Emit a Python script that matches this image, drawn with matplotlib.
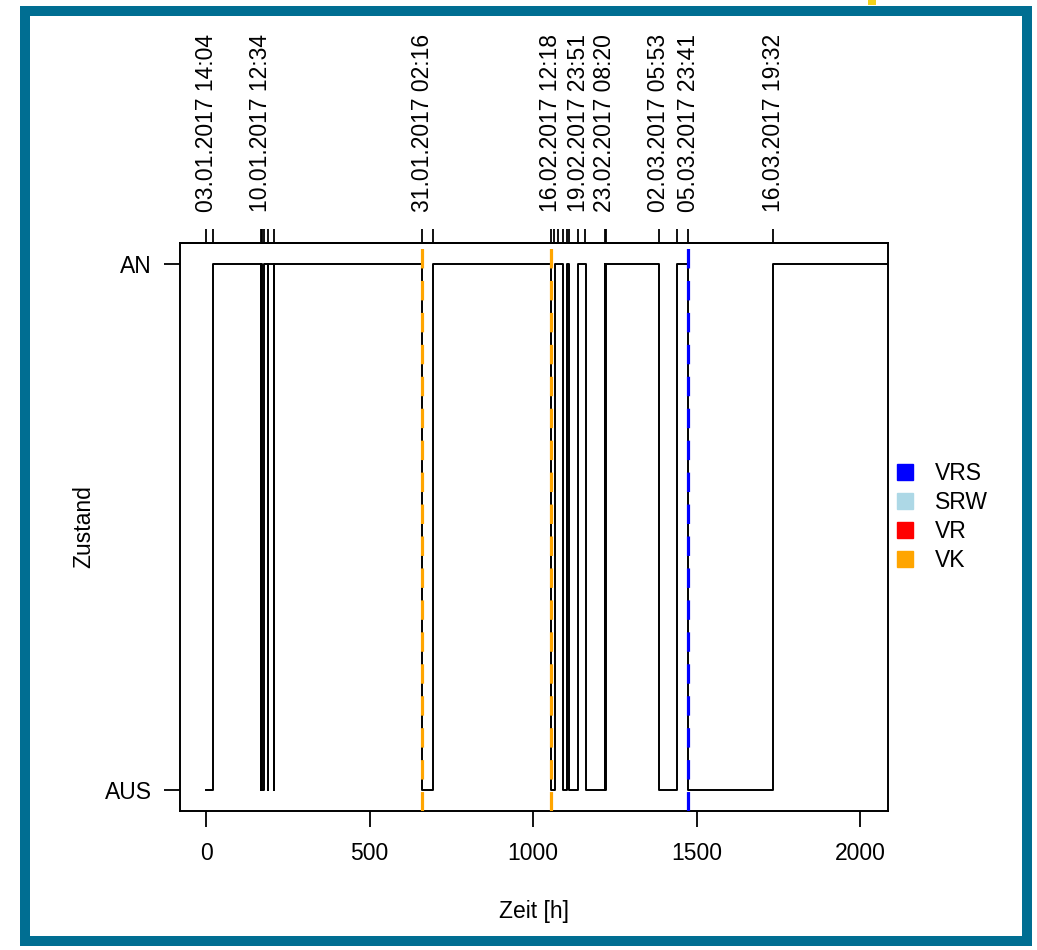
import matplotlib
matplotlib.use("Agg")
import matplotlib.pyplot as plt
from matplotlib.patches import Rectangle
from matplotlib.lines import Line2D

plt.rcParams['font.family'] = ['Liberation Sans', 'DejaVu Sans']
plt.rcParams['lines.scale_dashes'] = False

# Zustandswechsel (Stunden seit Start, 0 = AUS, 1 = AN)
step_h = [0, 22, 166.5, 168, 171, 176, 189, 190, 207, 208, 660.2, 695,
          1054.2, 1067, 1090, 1103, 1108, 1137.8, 1160, 1218.3, 1220, 1223,
          1383.8, 1441, 1473.6, 1733.5, 2090]
step_state = [0, 1, 0, 1, 0, 1, 0, 1, 0, 1, 0, 1,
              0, 1, 0, 1, 0, 1, 0, 1, 0, 1,
              0, 1, 0, 1, 1]

# Ereignisse oben (Ticks) und die beschrifteten Zeitpunkte
event_h = [0, 22, 166.5, 171, 178, 189, 207, 660.2, 695, 1054.2, 1065, 1077,
           1090, 1103, 1108, 1137.8, 1157, 1218.3, 1223, 1383.8, 1441, 1473.6, 1733.5]
label_h = [0, 166.5, 660.2, 1054.2, 1137.8, 1218.3, 1383.8, 1473.6, 1733.5]
label_txt = ['03.01.2017 14:04', '10.01.2017 12:34', '31.01.2017 02:16',
             '16.02.2017 12:18', '19.02.2017 23:51', '23.02.2017 08:20',
             '02.03.2017 05:53', '05.03.2017 23:41', '16.03.2017 19:32']

# Markierungen (vertikale Linien)
mark_h = [660.2, 1054.2, 1473.6]
mark_type = ['VK', 'VK', 'VRS']

legend_names = ['VRS', 'SRW', 'VR', 'VK']
legend_colors = ['#0000FF', '#ADD8E6', '#FF0000', '#FFA500']
type_color = dict(zip(legend_names, legend_colors))

FS = 16.5
W, H = 1037, 950
fig = plt.figure(figsize=(W / 100, H / 100), dpi=100)
fig.patch.set_facecolor('white')

def px_rect(x, y, w, h, color):
  fig.add_artist(Rectangle((x / W, 1 - (y + h) / H), w / W, h / H,
                           transform=fig.transFigure, facecolor=color,
                           edgecolor='none', zorder=0))

# teal frame around the screenshot
teal = '#006E92'
px_rect(20, 6, 1012, 10, teal)
px_rect(20, 936, 1012, 10, teal)
px_rect(20, 6, 10, 940, teal)
px_rect(1022, 6, 10, 940, teal)
px_rect(868, 0, 8, 5, '#F2D21B')

ax = fig.add_axes([180 / W, 1 - 810.7 / H, 708 / W, 567.7 / H])

ax.step(step_h, step_state, where='post', color='black', lw=1.4, zorder=2)

for h, t in zip(mark_h, mark_type):
  ax.axvline(h, color=type_color[t], lw=2.3, linestyle=(0, (14, 9)), zorder=3)

ax.set_xlim(-80, 2085)
ax.set_ylim(-0.04, 1.04)

ax.set_xticks([0, 500, 1000, 1500, 2000])
ax.set_yticks([0, 1])
ax.set_yticklabels(['AUS', 'AN'])
ax.tick_params(axis='both', length=11.5, width=1.3, labelsize=FS)
ax.tick_params(axis='x', pad=11)
ax.tick_params(axis='y', pad=9)
for s in ax.spines.values():
  s.set_linewidth(1.4)

ax.set_xlabel('Zeit [h]', fontsize=FS, labelpad=25)
ax.set_ylabel('Zustand', fontsize=FS, labelpad=7)

top = ax.secondary_xaxis('top')
top.set_xticks(event_h)
top.set_xticklabels([label_txt[label_h.index(h)] if h in label_h else '' for h in event_h],
                    rotation=90)
top.tick_params(length=10, width=1.3, labelsize=FS, pad=12)
top.spines['top'].set_linewidth(1.4)

handles = [Line2D([], [], marker='s', linestyle='none', markersize=11,
                  markerfacecolor=c, markeredgecolor=c) for c in legend_colors]
ax.legend(handles, legend_names, loc='center left', bbox_to_anchor=(0.995, 0.517),
          frameon=False, fontsize=FS, handletextpad=0.8, labelspacing=0.26,
          borderaxespad=0.0, handlelength=1.0)

fig.savefig('out.png', dpi=100)
